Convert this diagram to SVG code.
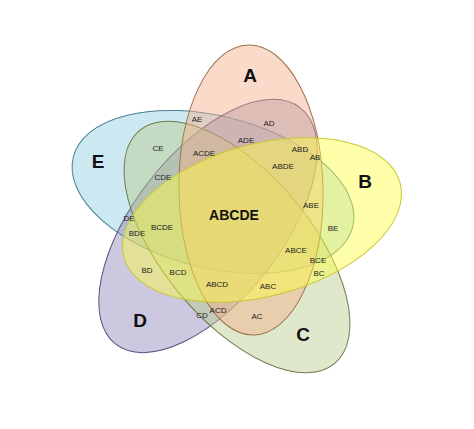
<svg xmlns="http://www.w3.org/2000/svg" width="474" height="429" viewBox="0 0 474 429">
<style>
.s{font-family:"Liberation Sans",Arial,sans-serif;font-size:8px;fill:#222;text-anchor:middle;dominant-baseline:middle}
.b{font-family:"Liberation Sans",Arial,sans-serif;font-size:19px;font-weight:bold;fill:#111;text-anchor:middle;dominant-baseline:middle}
.e{stroke-width:1}
</style>
<rect width="474" height="429" fill="#fff"/>
<g id="E"><ellipse class="e" cx="213" cy="192" rx="144" ry="76" transform="rotate(14 213 192)" fill="#8ecbe0" fill-opacity="0.45" stroke="#4e7f90"/></g>
<g id="D"><ellipse class="e" cx="208" cy="226" rx="150" ry="74" transform="rotate(-52 208 226)" fill="#8f84b8" fill-opacity="0.45" stroke="#5a5080"/></g>
<g id="C"><ellipse class="e" cx="237" cy="247" rx="152" ry="74" transform="rotate(50 237 247)" fill="#b8cc8a" fill-opacity="0.45" stroke="#6f7a50"/></g>
<g id="A"><ellipse class="e" cx="251" cy="190" rx="72" ry="145" transform="rotate(-1 251 190)" fill="#f4b088" fill-opacity="0.45" stroke="#9a7050"/></g>
<g id="B"><ellipse class="e" cx="262" cy="220" rx="143" ry="76" transform="rotate(-15 262 220)" fill="#ffff40" fill-opacity="0.45" stroke="#c8c830"/></g>
<g id="connectors"></g>
<g id="labels">
<text class="b" x="250" y="77">A</text>
<text class="b" x="365" y="183">B</text>
<text class="b" x="303" y="336">C</text>
<text class="b" x="140" y="322">D</text>
<text class="b" x="98" y="163">E</text>
<text class="b" x="234" y="216" style="font-size:14px">ABCDE</text>
<text class="s" x="197" y="120">AE</text>
<text class="s" x="269" y="124">AD</text>
<text class="s" x="246" y="141">ADE</text>
<text class="s" x="300" y="150">ABD</text>
<text class="s" x="315" y="158">AB</text>
<text class="s" x="158" y="149">CE</text>
<text class="s" x="204" y="154">ACDE</text>
<text class="s" x="283" y="167">ABDE</text>
<text class="s" x="163" y="178">CDE</text>
<text class="s" x="311" y="206">ABE</text>
<text class="s" x="129" y="219">DE</text>
<text class="s" x="137" y="234">BDE</text>
<text class="s" x="162" y="228">BCDE</text>
<text class="s" x="333" y="229">BE</text>
<text class="s" x="296" y="251">ABCE</text>
<text class="s" x="318" y="261">BCE</text>
<text class="s" x="319" y="274">BC</text>
<text class="s" x="147" y="271">BD</text>
<text class="s" x="178" y="273">BCD</text>
<text class="s" x="217" y="285">ABCD</text>
<text class="s" x="268" y="287">ABC</text>
<text class="s" x="202" y="316">CD</text>
<text class="s" x="218" y="311">ACD</text>
<text class="s" x="257" y="317">AC</text>
</g>
</svg>
